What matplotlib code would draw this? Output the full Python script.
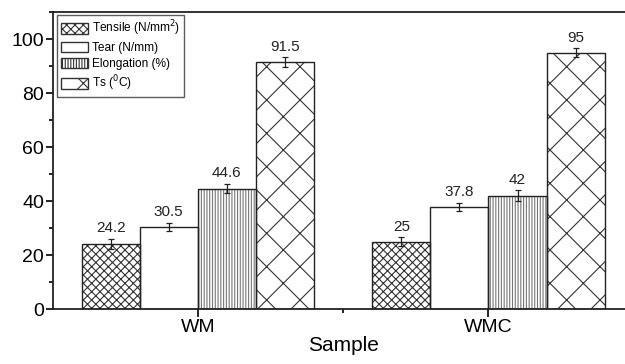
import matplotlib.pyplot as plt
import numpy as np
from matplotlib.patches import Patch
from matplotlib.ticker import MultipleLocator, FixedLocator

plt.rcParams['font.family'] = ['Liberation Sans', 'DejaVu Sans']
plt.rcParams['hatch.linewidth'] = 0.8

# Данные
samples = ['WM', 'WMC']
series = ['Tensile (N/mm$^2$)', 'Tear (N/mm)', 'Elongation (%)', 'Ts ($^0$C)']
values = [
    [24.2, 25.0],   # Tensile
    [30.5, 37.8],   # Tear
    [44.6, 42.0],   # Elongation
    [91.5, 95.0],   # Ts
]
errors = [
    [1.8, 1.5],
    [1.5, 1.5],
    [1.8, 2.0],
    [1.8, 1.5],
]
value_labels = [
    ['24.2', '25'],
    ['30.5', '37.8'],
    ['44.6', '42'],
    ['91.5', '95'],
]

hatches = ['xxxx', '', '||||||', 'x']
hatch_colors = ['#333333', 'black', '#777777', '#333333']

fig = plt.figure(figsize=(6.25, 3.64), dpi=100)
ax = fig.add_axes([0.084, 0.151, 0.93, 0.816])

x = np.arange(1, len(samples) + 1)
width = 0.2
offsets = [-0.3, -0.1, 0.1, 0.3]

for i in range(len(series)):
    xs = x + offsets[i]
    # штриховка
    ax.bar(xs, values[i], width, color='white', edgecolor=hatch_colors[i],
           hatch=hatches[i], linewidth=0, zorder=2)
    # контур
    ax.bar(xs, values[i], width, fill=False, edgecolor='#222222',
           linewidth=1.0, zorder=3)
    ax.errorbar(xs, values[i], yerr=errors[i], fmt='none', ecolor='#222222',
                elinewidth=0.9, capsize=2.5, capthick=0.9, zorder=4)
    for xi, v, e, lab in zip(xs, values[i], errors[i], value_labels[i]):
        ax.text(xi, v + e + 1.3, lab, ha='center', va='bottom', fontsize=11,
                color='#222222')

ax.set_xlim(0.5, 2.5)
ax.set_ylim(0, 110)
ax.xaxis.set_major_locator(FixedLocator(x))
ax.set_xticklabels(samples, fontsize=14)
ax.xaxis.set_minor_locator(FixedLocator([1.5]))
ax.yaxis.set_major_locator(MultipleLocator(20))
ax.yaxis.set_minor_locator(MultipleLocator(10))
ax.tick_params(axis='y', which='major', labelsize=14, length=5, width=1.2, direction='out', pad=1)
ax.tick_params(axis='y', which='minor', length=3, width=1.2, direction='out')
ax.tick_params(axis='x', which='major', length=6, width=1.2, direction='out', pad=1)
ax.tick_params(axis='x', which='minor', length=3, width=1.2, direction='out')
ax.set_xlabel('Sample', fontsize=15, labelpad=0)

for s in ax.spines.values():
    s.set_linewidth(1.3)
    s.set_color('#222222')

handles = [Patch(facecolor='white', edgecolor='#333333', hatch=h, linewidth=1.0)
           for h in hatches]
ax.legend(handles, series, loc='upper left', fontsize=8.6, frameon=True,
          fancybox=False, edgecolor='#333333', handlelength=2.3, handleheight=1.0,
          handletextpad=0.3, labelspacing=0.3, borderpad=0.3,
          bbox_to_anchor=(0.008, 0.99), borderaxespad=0)

fig.savefig('out.png', dpi=100)
